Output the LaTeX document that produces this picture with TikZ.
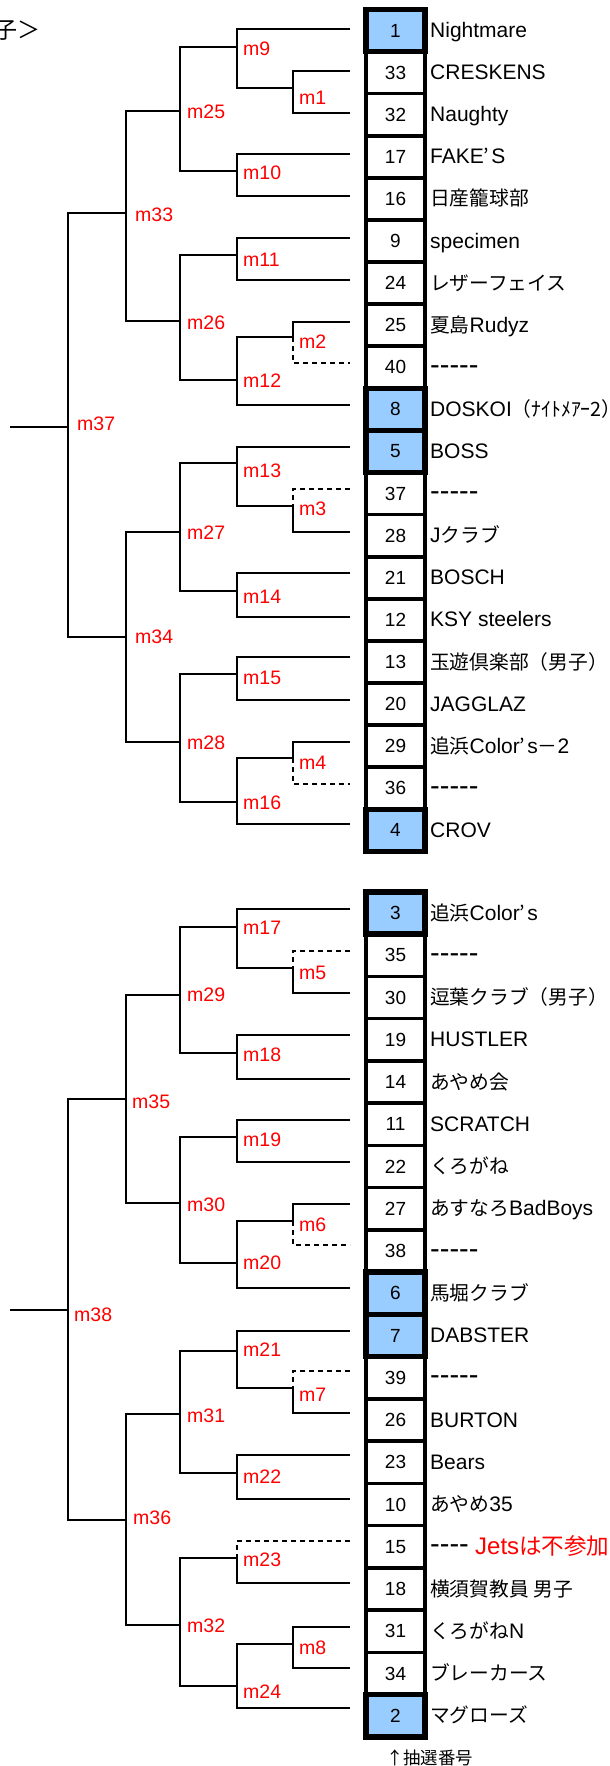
\documentclass[tikz,border=0pt]{standalone}
\usepackage{fontspec}
\setmainfont{Liberation Sans}
\newfontfamily\jpfont{Noto Sans CJK JP}[Scale=0.94]
\newcommand\jpn[1]{{\jpfont #1}}
\newcommand\apos{\jpn{’}\kern2pt}
\newcommand\byedash{{\fontsize{29}{29}\selectfont -{}-{}-{}-{}-}}
\newcommand\byedashf{{\fontsize{29}{29}\selectfont -{}-{}-{}-}}
\definecolor{seedblue}{HTML}{99CCFF}
\begin{document}
\begin{tikzpicture}[x=1pt,y=-1pt,
  conn/.style={line width=1.6pt},
  boldconn/.style={line width=2.8pt},
  bye/.style={line width=1.6pt, dash pattern=on 5pt off 4pt},
  cellbox/.style={draw, line width=3.5pt, minimum width=59pt, minimum height=42.2pt, inner sep=0pt, outer sep=0pt, font=\fontsize{19}{19}\selectfont},
  seedbox/.style={cellbox, line width=5.5pt, fill=seedblue},
  nametxt/.style={anchor=base west, inner sep=0pt, font=\fontsize{21}{24}\selectfont},
  mlab/.style={anchor=west, inner sep=0pt, text=red, font=\fontsize{19.5}{20}\selectfont},
]
\useasboundingbox (0,0) rectangle (610,1766);

% header
\node[anchor=base west, inner sep=0pt, font=\fontsize{24.5}{26}\selectfont] (hdr) at (-6,39) {\jpn{子＞}};

% ---------- boxes top ----------
\foreach \k/\n in {2/33,3/32,4/17,5/16,6/9,7/24,8/25,9/40,12/37,13/28,14/21,15/12,16/13,17/20,18/29,19/36}
  \node[cellbox] (ct\k) at (395.5,{30.5+42.1*(\k-1)}) {\n};
\foreach \k/\n in {1/1,10/8,11/5,20/4}
  \node[seedbox] (ct\k) at (395.5,{30.5+42.1*(\k-1)}) {\n};
% ---------- boxes bottom ----------
\foreach \k/\n in {2/35,3/30,4/19,5/14,6/11,7/22,8/27,9/38,12/39,13/26,14/23,15/10,16/15,17/18,18/31,19/34}
  \node[cellbox] (cb\k) at (395.5,{913+42.25*(\k-1)}) {\n};
\foreach \k/\n in {1/3,10/6,11/7,20/2}
  \node[seedbox] (cb\k) at (395.5,{913+42.25*(\k-1)}) {\n};

% ---------- names top ----------
\foreach \k/\t in {1/Nightmare,2/CRESKENS,3/Naughty,4/FAKE\apos S,5/\jpn{日産籠球部},
  6/specimen,7/\jpn{レザーフェイス},8/\jpn{夏島}Rudyz,9/\byedash,10/DOSKOI\jpn{（ﾅｲﾄﾒｱｰ2）},
  11/BOSS,12/\byedash,13/J\jpn{クラブ},14/BOSCH,15/KSY steelers,
  16/\jpn{玉遊倶楽部（男子）},17/JAGGLAZ,18/\jpn{追浜}Color\apos s\jpn{－}2,19/\byedash,20/CROV}
  \node[nametxt] (nt\k) at (430,{37.5+42.1*(\k-1)}) {\t};
% ---------- names bottom ----------
\foreach \k/\t in {1/\jpn{追浜}Color\apos s,2/\byedash,3/\jpn{逗葉クラブ（男子）},4/HUSTLER,5/\jpn{あやめ会},
  6/SCRATCH,7/\jpn{くろがね},8/\jpn{あすなろ}BadBoys,9/\byedash,10/\jpn{馬堀クラブ},
  11/DABSTER,12/\byedash,13/BURTON,14/Bears,15/\jpn{あやめ}35,
  16/\byedashf,17/\jpn{横須賀教員 男子},18/\jpn{くろがね}N,19/\jpn{ブレーカース},20/\jpn{マグローズ}}
  \node[nametxt] (nb\k) at (430,{920+42.25*(\k-1)}) {\t};
\node[nametxt, text=red, font=\fontsize{24}{26}\selectfont] (jets) at (475,{921+42.25*15}) {Jets\jpn{は不参加}};

% caption
\node[anchor=base west, inner sep=0pt, font=\fontsize{18.5}{19}\selectfont] (cap) at (386,1764) {\jpn{↑抽選番号}};

% ---------- leaf coordinates ----------
\foreach \k/\y in {1/29,2/71,3/113,4/154,5/196,6/238,7/280,8/322,9/363,10/405,
  11/447,12/489,13/532,14/573,15/617,16/657,17/700,18/742,19/784,20/824}
  \coordinate (L\k) at (350,\y);
\foreach \k/\y in {1/909,2/951,3/993,4/1035,5/1079,6/1120,7/1162,8/1204,9/1245,10/1288,
  11/1331,12/1371,13/1413,14/1455,15/1499,16/1541,17/1583,18/1627,19/1668,20/1708}
  \coordinate (B\k) at (350,\y);

% ---------- joints ----------
\foreach \m/\x/\y in {1/293/88,9/237/47,10/237/171,25/180/111,11/237/255,2/293/337,12/237/380,
  26/180/321,33/126/213,13/237/463,3/293/506,14/237/591,27/180/532,15/237/674,4/293/758,
  16/237/802,28/180/742,34/126/637,37/68/427,
  5/293/968,17/237/927,18/237/1053,29/180/995,19/237/1137,6/293/1221,20/237/1263,30/180/1203,
  35/126/1099,7/293/1388,21/237/1351,22/237/1473,31/180/1414,23/237/1558,8/293/1644,
  24/237/1686,32/180/1625,36/126/1520,38/68/1310}
  \coordinate (j\m) at (\x,\y);
\coordinate (s37) at (10,427);
\coordinate (s38) at (10,1310);

% ---------- connectors: normal matches ----------
\foreach \m/\a/\b in {1/L2/L3,9/L1/j1,10/L4/L5,25/j9/j10,11/L6/L7,12/j2/L10,26/j11/j12,33/j25/j26,
  13/L11/j3,14/L14/L15,27/j13/j14,15/L16/L17,16/j4/L20,28/j15/j16,34/j27/j28,37/j33/j34,
  17/B1/j5,18/B4/B5,29/j17/j18,19/B6/B7,20/j6/B10,30/j19/j20,35/j29/j30,
  21/B11/j7,22/B14/B15,31/j21/j22,8/B18/B19,24/j8/B20,32/j23/j24,36/j31/j32,38/j35/j36}
  \draw[conn] (\a) -- (\a -| j\m) -- (\b -| j\m) -- (\b);
% heavier segments
\draw[boldconn] (j25) -- (j25 -| j33);
\draw[boldconn] (j14) -- (j14 -| j27);
% ---------- connectors: byes ----------
\foreach \m/\w/\d in {2/L8/L9,4/L18/L19,6/B8/B9}{
  \draw[conn] (\w) -- (\w -| j\m) -- (j\m);
  \draw[bye] (j\m) -- (\d -| j\m) -- (\d);
}
\foreach \m/\d/\w in {3/L12/L13,5/B2/B3,7/B12/B13,23/B16/B17}{
  \draw[bye] (\d) -- (\d -| j\m) -- (j\m);
  \draw[conn] (j\m) -- (\w -| j\m) -- (\w);
}
% final stubs
\draw[conn] (j37) -- (s37);
\draw[conn] (j38) -- (s38);

% ---------- labels ----------
\foreach \m/\x/\y in {1/299/98,9/243/49,10/243/173,25/187/112,11/243/260,2/299/342,12/243/381,
  26/187/323,33/135/215,13/243/471,3/299/509,14/243/597,27/187/533,15/243/678,4/299/763,
  16/243/803,28/187/743,34/135/637,37/77/424,
  5/299/973,17/243/928,18/243/1055,29/187/995,19/243/1140,6/299/1225,20/243/1263,30/187/1205,
  35/132/1102,7/299/1395,21/243/1350,22/243/1477,31/187/1416,23/243/1560,8/299/1648,
  24/243/1692,32/187/1626,36/133/1518,38/74/1315}
  \node[mlab] (l\m) at (\x,\y) {m\m};
\end{tikzpicture}
\end{document}
